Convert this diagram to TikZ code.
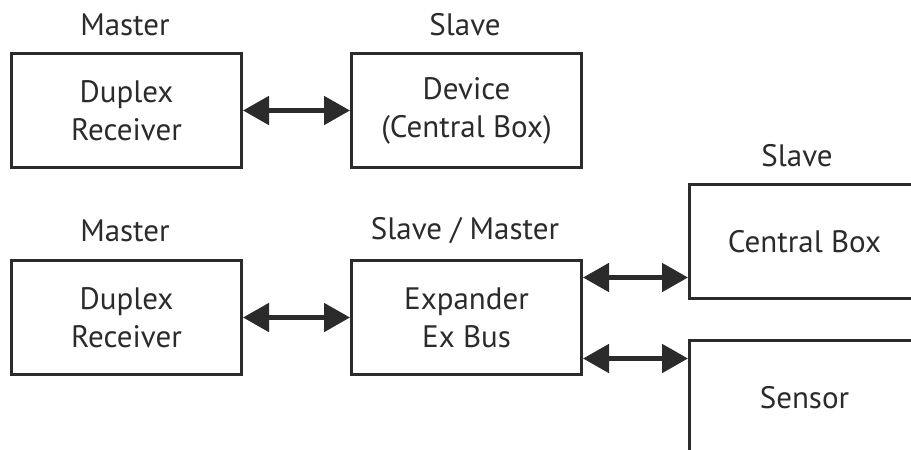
\documentclass[tikz,border=0pt]{standalone}
\usepackage{fontspec}
\setmainfont{PT Sans}
\usetikzlibrary{arrows.meta}
\definecolor{ink}{HTML}{2B2B2B}
\begin{document}
\begin{tikzpicture}[x=1pt,y=-1pt,
  box/.style={draw=ink,line width=3pt,minimum width=230pt,minimum height=114pt,inner sep=0pt,
    align=center,text=ink,font=\fontsize{31}{38}\selectfont,anchor=north west},
  lbl/.style={text=ink,font=\fontsize{31}{36}\selectfont,inner sep=0pt},
  link/.style={draw=ink,line width=5pt,{Triangle[length=26pt,width=28pt]}-{Triangle[length=26pt,width=28pt]}}]
\useasboundingbox (0,0) rectangle (911,450);
\clip (0,0) rectangle (911,450);
\node[box] (b1) at (10,52) {Duplex\\Receiver};
\node[box] (b2) at (350,52) {Device\\(Central Box)};
\node[box] (b3) at (10,259) {Duplex\\Receiver};
\node[box] (b4) at (350,259) {Expander\\Ex Bus};
\node[box] (b5) at (688,183) {Central Box};
\node[box] (b6) at (688,339) {Sensor};
\node[lbl] (l1) at (125,25) {Master};
\node[lbl] (l2) at (465,25) {Slave};
\node[lbl] (l3) at (125,231) {Master};
\node[lbl] (l4) at (465,231) {Slave / Master};
\node[lbl] (l5) at (797,156) {Slave};
\draw[link] (b1.east) -- (b2.west);
\draw[link] (b3.east) -- (b4.west);
\draw[link] ([yshift=40pt]b4.east) -- ([yshift=40pt]b4.east -| b5.west);
\draw[link] ([yshift=-41pt]b4.east) -- ([yshift=-41pt]b4.east -| b6.west);
\end{tikzpicture}
\end{document}
